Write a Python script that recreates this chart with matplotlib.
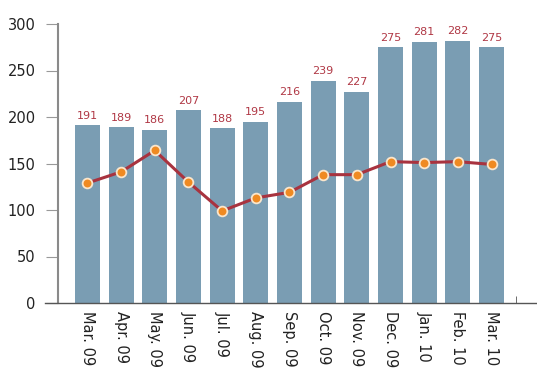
import numpy as np
import matplotlib
matplotlib.use("Agg")
import matplotlib.pyplot as plt

months = ["Mar. 09", "Apr. 09", "May. 09", "Jun. 09", "Jul. 09", "Aug. 09", "Sep. 09",
          "Oct. 09", "Nov. 09", "Dec. 09", "Jan. 10", "Feb. 10", "Mar. 10"]
bar_values = [191, 189, 186, 207, 188, 195, 216, 239, 227, 275, 281, 282, 275]
line_values = [129, 141, 164, 130, 99, 113, 119, 138, 138, 152, 151, 152, 149]
y_ticks = [0, 50, 100, 150, 200, 250, 300]

fig = plt.figure(figsize=(5.37, 3.70), dpi=100)
ax = fig.add_axes([45 / 537, 67 / 370, 492 / 537, 279 / 370])

x = np.arange(len(months))
ax.bar(x, bar_values, width=0.74, color="#7a9db3", zorder=1)
ax.plot(x, line_values, color="#a8333f", linewidth=2.2, zorder=2,
        marker="o", markersize=7, markerfacecolor="#ef8a22",
        markeredgecolor="#fbe6cc", markeredgewidth=1.3)

# value labels above the bars
for xi, v in zip(x, bar_values):
    ax.text(xi, v + 5, str(v), ha="center", va="bottom", fontsize=8, color="#b03845")

ax.set_xlim(-1.26, 13.35)
ax.set_ylim(0, 300)

for s in ["top", "right"]:
    ax.spines[s].set_visible(False)
ax.spines["left"].set_position(("data", -0.876))
ax.spines["left"].set_color("#8a8a8a")
ax.spines["left"].set_linewidth(1.5)
ax.spines["bottom"].set_color("#555555")
ax.spines["bottom"].set_linewidth(1.0)

ax.set_yticks(y_ticks)
ax.set_yticklabels([str(t) for t in y_ticks])
ax.tick_params(axis="y", length=9, color="#999999", labelsize=10.5, pad=7, labelcolor="#222222")

ax.set_xticks(x)
ax.set_xticklabels(months, rotation=-90, fontsize=10.5, color="#222222")
ax.tick_params(axis="x", length=0, pad=6)
ax.set_xticks([12.73], minor=True)
ax.tick_params(axis="x", which="minor", direction="in", length=5, color="#555555")

fig.savefig("out.png", dpi=100)
